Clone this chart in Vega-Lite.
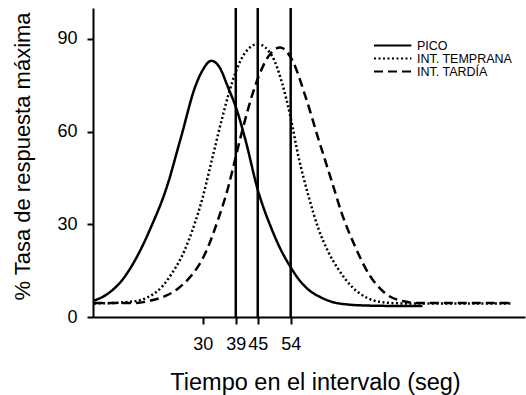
{
  "$schema": "https://vega.github.io/schema/vega-lite/v6.json",
  "autosize": "none",
  "width": 432,
  "height": 309,
  "padding": {"left": 93, "top": 8, "right": 1, "bottom": 78},
  "background": "white",
  "config": {
    "view": {"stroke": null},
    "font": "Liberation Sans",
    "axis": {
      "domainColor": "black", "domainWidth": 2, "tickColor": "black", "tickWidth": 2,
      "labelColor": "black", "titleColor": "black", "labelFont": "Liberation Sans",
      "titleFont": "Liberation Sans", "titleFontWeight": "normal", "grid": false,
      "labelFontSize": 18, "labelOverlap": false
    }
  },
  "datasets": {
    "curvas": [
      {"serie": "PICO", "t": 0.3, "tasa": 5.3},
      {"serie": "PICO", "t": 4, "tasa": 7.5},
      {"serie": "PICO", "t": 8, "tasa": 12},
      {"serie": "PICO", "t": 12, "tasa": 19.5},
      {"serie": "PICO", "t": 16, "tasa": 29.5},
      {"serie": "PICO", "t": 20, "tasa": 41.5},
      {"serie": "PICO", "t": 24, "tasa": 58},
      {"serie": "PICO", "t": 28, "tasa": 74.8},
      {"serie": "PICO", "t": 30, "tasa": 80},
      {"serie": "PICO", "t": 32.3, "tasa": 82.9},
      {"serie": "PICO", "t": 34.3, "tasa": 81.3},
      {"serie": "PICO", "t": 37, "tasa": 74},
      {"serie": "PICO", "t": 39, "tasa": 68},
      {"serie": "PICO", "t": 41.6, "tasa": 57.5},
      {"serie": "PICO", "t": 45, "tasa": 41.2},
      {"serie": "PICO", "t": 48.9, "tasa": 28.2},
      {"serie": "PICO", "t": 51, "tasa": 22.5},
      {"serie": "PICO", "t": 53.9, "tasa": 16.3},
      {"serie": "PICO", "t": 56, "tasa": 12.5},
      {"serie": "PICO", "t": 58.9, "tasa": 8.8},
      {"serie": "PICO", "t": 62, "tasa": 6.5},
      {"serie": "PICO", "t": 65, "tasa": 5},
      {"serie": "PICO", "t": 70, "tasa": 4},
      {"serie": "PICO", "t": 75, "tasa": 3.7},
      {"serie": "PICO", "t": 80, "tasa": 3.6},
      {"serie": "PICO", "t": 90, "tasa": 3.6},
      {"serie": "INT. TEMPRANA", "t": 0.3, "tasa": 4.4},
      {"serie": "INT. TEMPRANA", "t": 5, "tasa": 4.5},
      {"serie": "INT. TEMPRANA", "t": 10, "tasa": 4.9},
      {"serie": "INT. TEMPRANA", "t": 12.5, "tasa": 5.3},
      {"serie": "INT. TEMPRANA", "t": 15, "tasa": 6.4},
      {"serie": "INT. TEMPRANA", "t": 17.1, "tasa": 7.9},
      {"serie": "INT. TEMPRANA", "t": 19, "tasa": 10},
      {"serie": "INT. TEMPRANA", "t": 21.6, "tasa": 14.2},
      {"serie": "INT. TEMPRANA", "t": 24, "tasa": 19},
      {"serie": "INT. TEMPRANA", "t": 26.2, "tasa": 25},
      {"serie": "INT. TEMPRANA", "t": 28, "tasa": 31},
      {"serie": "INT. TEMPRANA", "t": 29.8, "tasa": 38},
      {"serie": "INT. TEMPRANA", "t": 32.5, "tasa": 51},
      {"serie": "INT. TEMPRANA", "t": 35.2, "tasa": 64},
      {"serie": "INT. TEMPRANA", "t": 37, "tasa": 72},
      {"serie": "INT. TEMPRANA", "t": 38.9, "tasa": 79},
      {"serie": "INT. TEMPRANA", "t": 41.6, "tasa": 85.6},
      {"serie": "INT. TEMPRANA", "t": 45, "tasa": 88.3},
      {"serie": "INT. TEMPRANA", "t": 48.9, "tasa": 84.5},
      {"serie": "INT. TEMPRANA", "t": 51.6, "tasa": 75.9},
      {"serie": "INT. TEMPRANA", "t": 53.9, "tasa": 65},
      {"serie": "INT. TEMPRANA", "t": 56.1, "tasa": 52},
      {"serie": "INT. TEMPRANA", "t": 58.9, "tasa": 39},
      {"serie": "INT. TEMPRANA", "t": 61.6, "tasa": 28.5},
      {"serie": "INT. TEMPRANA", "t": 64.3, "tasa": 21},
      {"serie": "INT. TEMPRANA", "t": 67, "tasa": 15.5},
      {"serie": "INT. TEMPRANA", "t": 70.7, "tasa": 9.8},
      {"serie": "INT. TEMPRANA", "t": 75.2, "tasa": 6},
      {"serie": "INT. TEMPRANA", "t": 79.8, "tasa": 4.7},
      {"serie": "INT. TEMPRANA", "t": 84.2, "tasa": 4.4},
      {"serie": "INT. TEMPRANA", "t": 90, "tasa": 4.4},
      {"serie": "INT. TEMPRANA", "t": 114, "tasa": 4.4},
      {"serie": "INT. TARDÍA", "t": 0.3, "tasa": 4.5},
      {"serie": "INT. TARDÍA", "t": 10, "tasa": 4.5},
      {"serie": "INT. TARDÍA", "t": 12.5, "tasa": 4.6},
      {"serie": "INT. TARDÍA", "t": 16, "tasa": 5.4},
      {"serie": "INT. TARDÍA", "t": 19.8, "tasa": 6.8},
      {"serie": "INT. TARDÍA", "t": 23, "tasa": 9},
      {"serie": "INT. TARDÍA", "t": 26.2, "tasa": 12.5},
      {"serie": "INT. TARDÍA", "t": 28.5, "tasa": 16},
      {"serie": "INT. TARDÍA", "t": 30.7, "tasa": 20.7},
      {"serie": "INT. TARDÍA", "t": 34.3, "tasa": 32},
      {"serie": "INT. TARDÍA", "t": 37, "tasa": 42.3},
      {"serie": "INT. TARDÍA", "t": 38, "tasa": 47},
      {"serie": "INT. TARDÍA", "t": 40.7, "tasa": 60},
      {"serie": "INT. TARDÍA", "t": 44.3, "tasa": 74.8},
      {"serie": "INT. TARDÍA", "t": 48, "tasa": 84.5},
      {"serie": "INT. TARDÍA", "t": 51.1, "tasa": 87.2},
      {"serie": "INT. TARDÍA", "t": 54.3, "tasa": 83.4},
      {"serie": "INT. TARDÍA", "t": 58, "tasa": 71.5},
      {"serie": "INT. TARDÍA", "t": 61.6, "tasa": 57.5},
      {"serie": "INT. TARDÍA", "t": 65.2, "tasa": 44},
      {"serie": "INT. TARDÍA", "t": 67.9, "tasa": 33.7},
      {"serie": "INT. TARDÍA", "t": 71.6, "tasa": 22.8},
      {"serie": "INT. TARDÍA", "t": 75.2, "tasa": 14.2},
      {"serie": "INT. TARDÍA", "t": 79.8, "tasa": 7.7},
      {"serie": "INT. TARDÍA", "t": 85.2, "tasa": 5},
      {"serie": "INT. TARDÍA", "t": 88.8, "tasa": 4.5},
      {"serie": "INT. TARDÍA", "t": 114, "tasa": 4.5}
    ],
    "lineas": [{"t": 39}, {"t": 45}, {"t": 54}]
  },
  "layer": [
    {
      "data": {"name": "lineas"},
      "mark": {"type": "rule", "color": "black", "strokeWidth": 2.5},
      "encoding": {
        "x": {"field": "t", "type": "quantitative", "scale": {"domain": [0, 118], "nice": false, "zero": false}}
      }
    },
    {
      "data": {"name": "curvas"},
      "mark": {"type": "line", "color": "black", "strokeWidth": 2.5, "interpolate": "monotone", "strokeCap": "butt"},
      "encoding": {
        "x": {
          "field": "t", "type": "quantitative",
          "scale": {"domain": [0, 118], "nice": false, "zero": false},
          "axis": {
            "values": [30, 39, 45, 54], "tickSize": 7, "labelPadding": 11,
            "title": "Tiempo en el intervalo (seg)", "titleFontSize": 23.5,
            "titleX": 222, "titleY": 72, "titleBaseline": "alphabetic", "titleAlign": "center"
          }
        },
        "y": {
          "field": "tasa", "type": "quantitative",
          "scale": {"domain": [0, 100], "nice": false},
          "axis": {
            "values": [0, 30, 60, 90], "tickSize": 6, "labelPadding": 10,
            "title": "% Tasa de respuesta máxima", "titleFontSize": 22,
            "titleX": -71, "titleY": 148, "titleAngle": 270, "titleBaseline": "middle", "titleAlign": "center"
          }
        },
        "strokeDash": {
          "field": "serie", "type": "nominal",
          "scale": {"domain": ["PICO", "INT. TEMPRANA", "INT. TARDÍA"], "range": [[1, 0], [2, 2.5], [9, 5]]},
          "legend": {
            "title": null, "orient": "none", "legendX": 280, "legendY": 31, "padding": 0,
            "symbolType": "M-1,0H5.8", "symbolSize": 121, "symbolStrokeWidth": 2,
            "symbolStrokeColor": "black", "symbolFillColor": "transparent",
            "labelFontSize": 12.5, "labelFont": "Liberation Sans", "labelColor": "black",
            "labelOffset": 31, "rowPadding": -2
          }
        }
      }
    }
  ]
}
